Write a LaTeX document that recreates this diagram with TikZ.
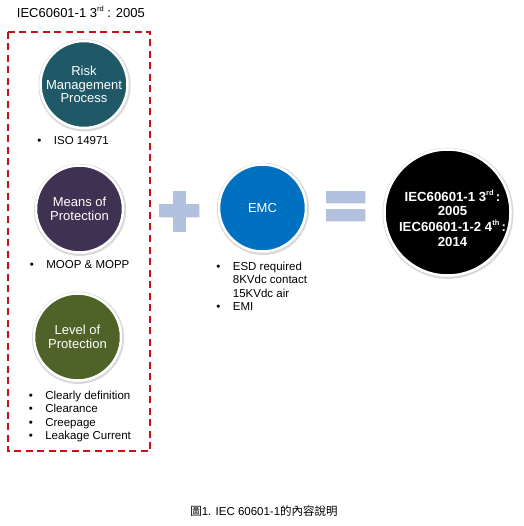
\documentclass[tikz,border=0pt]{standalone}
\usepackage{fontspec}
\setmainfont{Liberation Sans}
\newfontfamily\cjkfont{Noto Sans CJK TC}
\usepackage{xcolor}
\usepackage{tikz}
\usetikzlibrary{shadows}

\definecolor{riskteal}{RGB}{31,89,104}
\definecolor{meanspurple}{RGB}{63,49,82}
\definecolor{levelgreen}{RGB}{79,98,40}
\definecolor{emcblue}{RGB}{0,112,192}
\definecolor{opblue}{RGB}{178,194,222}
\definecolor{framered}{RGB}{200,16,22}

\newcommand{\bitem}{\makebox[16.5pt][l]{\textbullet}}
\newcommand{\bcont}{\hspace*{16.5pt}}
\newcommand{\supx}[1]{\raisebox{0.45em}{\fontsize{7.5}{8}\selectfont #1}}

\begin{document}
\begin{tikzpicture}[
    x=1pt, y=-1pt,
    topic/.style={
        circle,
        draw=white,
        line width=2.5pt,
        fill=#1,
        minimum size=87pt,
        inner sep=0pt,
        align=center,
        text=white,
        font=\fontsize{13}{13.5}\selectfont,
        drop shadow={shadow xshift=0.5pt, shadow yshift=-0.8pt,
            shadow scale=1.06, opacity=0.3}
    },
    result/.style={
        circle,
        draw=white,
        line width=2.5pt,
        fill=black,
        minimum size=126pt,
        inner sep=0pt,
        drop shadow={shadow xshift=0.5pt, shadow yshift=-0.8pt,
            shadow scale=1.04, opacity=0.3}
    },
    bulletlist/.style={
        anchor=north west,
        inner sep=0pt,
        align=left,
        font=\fontsize{11.5}{13.5}\selectfont
    },
    opbar/.style={
        rectangle,
        fill=opblue,
        inner sep=0pt,
        drop shadow={shadow xshift=0.6pt, shadow yshift=-0.8pt, opacity=0.2}
    },
    frame/.style={draw=framered, line width=2pt, dash pattern=on 7pt off 4.5pt}
]
\useasboundingbox (0,0) rectangle (523,526);

% title
\node[anchor=west, inner sep=0pt, font=\fontsize{13}{15}\selectfont] (title) at (16.7,12)
    {IEC60601-1 3\supx{rd} : 2005};

% left column
\draw[frame] (7.5,32) rectangle (150,451);

\node[topic=riskteal] (risk) at (84,84.5) {Risk\\Management\\Process};
\node[bulletlist] (risklist) at (37.2,136.7) {\bitem ISO 14971};

\node[topic=meanspurple] (means) at (79.5,209) {Means of\\Protection};
\node[bulletlist] (meanslist) at (29.6,260.7) {\bitem MOOP \& MOPP};

\node[topic=levelgreen] (level) at (77.5,337) {Level of\\Protection};
\node[bulletlist] (levellist) at (28.6,390.7)
    {\bitem Clearly definition\\\bitem Clearance\\\bitem Creepage\\\bitem Leakage Current};

% plus sign
\node[opbar, minimum width=40pt, minimum height=13pt] (plush) at (179.3,210.7) {};
\node[opbar, minimum width=13pt, minimum height=40pt] (plusv) at (179.3,211.5) {};

% EMC
\node[topic=emcblue] (emc) at (262.5,208) {EMC};
\node[bulletlist] (emclist) at (216.2,261.7)
    {\bitem ESD required\\\bcont 8KVdc contact\\\bcont 15KVdc air\\\bitem EMI};

% equals sign
\node[opbar, minimum width=39pt, minimum height=12pt] (eqtop) at (345.5,197.5) {};
\node[opbar, minimum width=39pt, minimum height=12pt] (eqbot) at (345.5,215.5) {};

% result
\node[result] (total) at (447.5,212.5) {};
\node[align=center, text=white, inner sep=0pt,
      font=\bfseries\fontsize{13.2}{14.5}\selectfont] (totaltext) at (452.5,218)
    {IEC60601-1 3\supx{rd}\,:\\2005\\[1.5pt]IEC60601-1-2 4\supx{th}\,:\\2014};

% caption
\node[inner sep=0pt, font=\fontsize{11.5}{13}\selectfont] (caption) at (264,511)
    {{\cjkfont 圖}1. IEC 60601-1{\cjkfont 的內容說明}};

\end{tikzpicture}
\end{document}
